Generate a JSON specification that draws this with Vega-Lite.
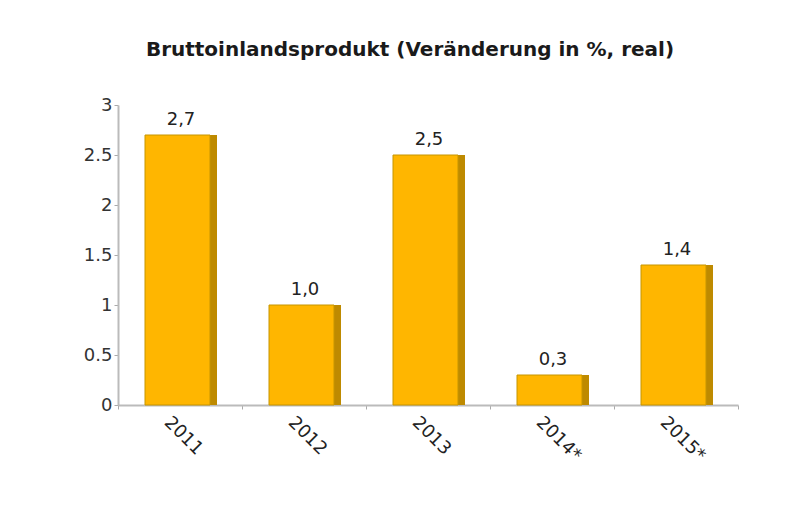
{
  "$schema": "https://vega.github.io/schema/vega-lite/v6.json",
  "width": 620,
  "height": 300,
  "autosize": {"type": "none"},
  "padding": {"left": 118, "top": 105, "right": 71, "bottom": 100},
  "background": "white",
  "title": {
    "text": "Bruttoinlandsprodukt (Veränderung in %, real)",
    "font": "DejaVu Sans",
    "fontSize": 20,
    "fontWeight": "bold",
    "color": "#1a1a1a",
    "anchor": "middle",
    "dx": -18,
    "offset": 36
  },
  "data": {
    "values": [
      {"jahr": "2011", "wert": 2.7, "label": "2,7"},
      {"jahr": "2012", "wert": 1.0, "label": "1,0"},
      {"jahr": "2013", "wert": 2.5, "label": "2,5"},
      {"jahr": "2014*", "wert": 0.3, "label": "0,3"},
      {"jahr": "2015*", "wert": 1.4, "label": "1,4"}
    ]
  },
  "encoding": {
    "x": {
      "field": "jahr",
      "type": "nominal",
      "sort": null,
      "scale": {"paddingInner": 0, "paddingOuter": 0},
      "axis": {
        "title": null,
        "labelAngle": 45,
        "labelFont": "DejaVu Sans",
        "labelFontSize": 18,
        "labelColor": "#222222",
        "domainColor": "#bbbbbb",
        "domainWidth": 2,
        "tickColor": "#aaaaaa",
        "tickSize": 4,
        "tickBand": "extent",
        "labelPadding": 4,
        "labelOffset": -7
      }
    },
    "y": {
      "field": "wert",
      "type": "quantitative",
      "scale": {"domain": [0, 3]},
      "axis": {
        "title": null,
        "grid": false,
        "values": [0, 0.5, 1, 1.5, 2, 2.5, 3],
        "format": "~g",
        "labelFont": "DejaVu Sans",
        "labelFontSize": 18,
        "labelColor": "#333333",
        "domainColor": "#bbbbbb",
        "domainWidth": 2,
        "tickColor": "#aaaaaa",
        "tickSize": 4,
        "labelPadding": 2
      }
    }
  },
  "layer": [
    {"mark": {"type": "bar", "width": 72, "xOffset": 1, "color": "#BE8A00"}},
    {"mark": {"type": "bar", "width": 65, "xOffset": -2.5, "color": "#FFB600", "stroke": "#C69500", "strokeWidth": 1}},
    {
      "mark": {"type": "text", "baseline": "bottom", "dy": -6, "xOffset": 1, "font": "DejaVu Sans", "fontSize": 18, "color": "#222222"},
      "encoding": {"text": {"field": "label"}}
    }
  ],
  "config": {"view": {"stroke": null}}
}
